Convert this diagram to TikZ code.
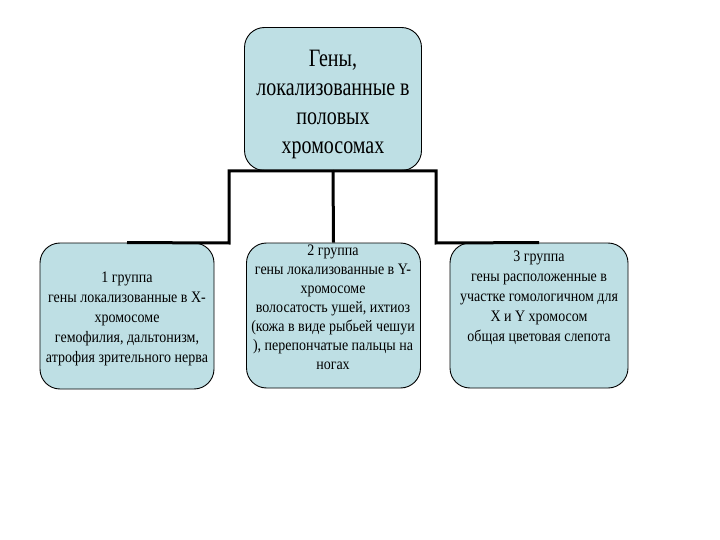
\documentclass[tikz,border=0pt]{standalone}
\usepackage{fontspec}
\setmainfont{Liberation Serif}
\newfontfamily\bigface[FakeStretch=0.8]{Liberation Serif}
\newfontfamily\smallface[FakeStretch=0.875]{Liberation Serif}
\definecolor{boxfill}{RGB}{190,223,228}
\tikzset{
  gbox/.style={draw=black, line width=0.9pt, fill=boxfill, rounded corners=20pt, inner sep=0pt},
  conn/.style={draw=black, line width=3pt, line join=miter},
  bigtxt/.style={align=center, font=\bigface\fontsize{25}{29}\selectfont, inner sep=0pt},
  smalltxt/.style={align=center, font=\smallface\fontsize{16}{20}\selectfont, inner sep=0pt},
  midtxt/.style={align=center, font=\smallface\fontsize{16}{19}\selectfont, inner sep=0pt}
}
\begin{document}
\begin{tikzpicture}[x=1pt,y=-1pt]
\useasboundingbox[fill=white] (0,0) rectangle (720,540);
% boxes
\node[gbox, minimum width=177pt, minimum height=143pt] (top) at (333,99) {};
\node[gbox, minimum width=174pt, minimum height=146pt] (b1) at (127,316) {};
\node[gbox, minimum width=174pt, minimum height=145pt] (b2) at (333.5,315.5) {};
\node[gbox, minimum width=178pt, minimum height=145pt] (b3) at (539,315.5) {};
% texts
\node[bigtxt] (ttop) at (333,104) {Гены,\\локализованные в\\половых\\хромосомах};
\node[smalltxt] (t1) at (127,319) {1 группа\\гены локализованные в X-\\хромосоме\\гемофилия, дальтонизм,\\атрофия зрительного нерва};
\node[midtxt, anchor=north] (t2) at (333,245) {2 группа\\гены локализованные в Y-\\хромосоме\\волосатость ушей, ихтиоз\\(кожа в виде рыбьей чешуи\\), перепончатые пальцы на\\ногах};
\node[smalltxt, anchor=north] (t3) at (539,251) {3 группа\\гены расположенные в\\участке гомологичном для\\X и Y хромосом\\общая цветовая слепота};
% connectors
\coordinate (lk) at (229,243);
\coordinate (rk) at (436,243);
\draw[conn] (top.south) -| (lk) -- (b1.north);
\draw[conn] (top.south) -| (rk) -- (b3.north);
\draw[conn] (top.south) -- (b2.north);
\end{tikzpicture}
\end{document}
